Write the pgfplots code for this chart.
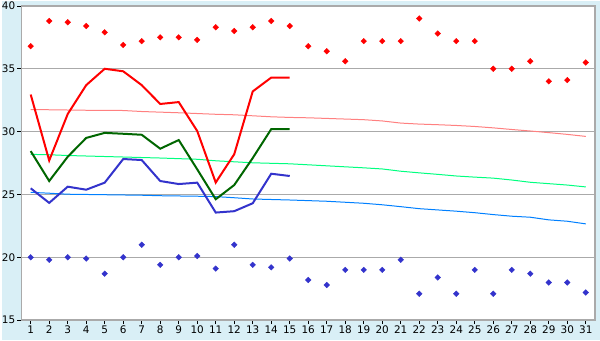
\documentclass[border=0pt]{standalone}
\usepackage{pgfplots}
\pgfplotsset{compat=1.18}
\usepackage{fontspec}
\setmainfont{DejaVu Sans}
\definecolor{bgc}{HTML}{D9EFF6}
\definecolor{gridc}{HTML}{AAAAAA}
\definecolor{rmax}{HTML}{FF0000}
\definecolor{gavg}{HTML}{006600}
\definecolor{bmin}{HTML}{3333CC}
\definecolor{nmax}{HTML}{FF8080}
\definecolor{navg}{HTML}{00FF80}
\definecolor{nmin}{HTML}{0080FF}
\pgfplotstableread{
d rmx rmn
1 36.8 20.0
2 38.8 19.8
3 38.7 20.0
4 38.4 19.9
5 37.9 18.7
6 36.9 20.0
7 37.2 21.0
8 37.5 19.4
9 37.5 20.0
10 37.3 20.1
11 38.3 19.1
12 38.0 21.0
13 38.3 19.4
14 38.8 19.2
15 38.4 19.9
16 36.8 18.2
17 36.4 17.8
18 35.6 19.0
19 37.2 19.0
20 37.2 19.0
21 37.2 19.8
22 39.0 17.1
23 37.8 18.4
24 37.2 17.1
25 37.2 19.0
26 35.0 17.1
27 35.0 19.0
28 35.6 18.7
29 34.0 18.0
30 34.1 18.0
31 35.5 17.2
}\records
\pgfplotstableread{
d mx av mn
1 32.95 28.45 25.49
2 27.7 26.07 24.33
3 31.4 28.0 25.62
4 33.7 29.5 25.38
5 35.0 29.9 25.94
6 34.8 29.83 27.82
7 33.7 29.75 27.74
8 32.2 28.64 26.07
9 32.35 29.33 25.83
10 30.05 27.0 25.94
11 25.95 24.62 23.56
12 28.2 25.75 23.67
13 33.2 27.9 24.3
14 34.3 30.2 26.65
15 34.3 30.2 26.47
}\actual
\pgfplotstableread{
d mx av mn
1 31.76 28.19 25.17
2 31.74 28.16 25.10
3 31.72 28.10 25.02
4 31.70 28.06 25.00
5 31.70 28.02 24.98
6 31.68 27.98 24.96
7 31.60 27.94 24.94
8 31.55 27.90 24.90
9 31.50 27.85 24.88
10 31.44 27.80 24.86
11 31.38 27.68 24.83
12 31.34 27.60 24.74
13 31.26 27.52 24.64
14 31.18 27.48 24.60
15 31.13 27.44 24.56
16 31.10 27.36 24.51
17 31.05 27.28 24.46
18 31.00 27.20 24.38
19 30.95 27.12 24.30
20 30.85 27.03 24.18
21 30.68 26.85 24.03
22 30.60 26.72 23.87
23 30.55 26.60 23.77
24 30.49 26.47 23.67
25 30.41 26.38 23.55
26 30.30 26.30 23.40
27 30.17 26.15 23.27
28 30.05 25.97 23.19
29 29.92 25.86 22.98
30 29.78 25.75 22.87
31 29.62 25.60 22.66
}\normals
\begin{document}
\begin{tikzpicture}[x=1bp,y=1bp]
\fill[bgc] (-20bp,-20bp) rectangle (580bp,320bp);
\begin{axis}[
  at={(0,0)}, anchor=south west,
  scale only axis, width=575bp, height=315bp,
  xmin=0.5, xmax=31.5, ymin=15, ymax=40,
  xtick={1,...,31}, ytick={15,20,25,30,35,40},
  tick align=outside, tick pos=left,
  major tick length=4bp,
  tick style={black, line width=0.8bp},
  ymajorgrids, grid style={gridc, line width=1bp},
  axis line style={gridc, line width=1.5bp},
  axis background/.style={fill=white},
  /pgf/number format/assume math mode=true,
  ticklabel style={font=\fontsize{10.5}{12}\selectfont, text=black},
  xticklabel style={inner sep=1.5bp},
  yticklabel style={inner sep=2bp},
  clip=false,
]
\addplot[nmax, line width=1bp] table[x=d,y=mx] {\normals};
\addplot[navg, line width=1bp] table[x=d,y=av] {\normals};
\addplot[nmin, line width=1bp] table[x=d,y=mn] {\normals};
\addplot[rmax, line width=2bp] table[x=d,y=mx] {\actual};
\addplot[gavg, line width=2bp] table[x=d,y=av] {\actual};
\addplot[bmin, line width=2bp] table[x=d,y=mn] {\actual};
\addplot[only marks, mark=square*, mark size=2.0bp, rmax, mark options={fill=rmax, rotate=45}] table[x=d,y=rmx] {\records};
\addplot[only marks, mark=square*, mark size=2.0bp, bmin, mark options={fill=bmin, rotate=45}] table[x=d,y=rmn] {\records};
\end{axis}
\end{tikzpicture}
\end{document}
